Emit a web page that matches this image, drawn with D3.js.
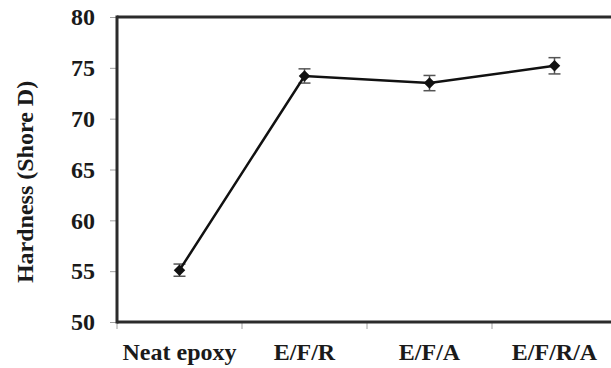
<!DOCTYPE html>
<html>
<head>
<meta charset="utf-8">
<script src="https://cdn.jsdelivr.net/npm/d3@7"></script>
<style>
  html, body { margin: 0; padding: 0; background: #fff; }
  svg { display: block; }
  text { font-family: "Liberation Serif", "Times New Roman", serif; font-weight: bold; fill: #1a1a1a; }
</style>
</head>
<body>
<svg id="chart" width="611" height="368"></svg>
<script>
// Shore D hardness of each formulation, with standard deviation
const categories = ["Neat epoxy", "E/F/R", "E/F/A", "E/F/R/A"];
const hardness = [55.1, 74.2, 73.5, 75.2];
const hardnessErr = [0.6, 0.7, 0.75, 0.8];
const yTicks = [50, 55, 60, 65, 70, 75, 80];
const yTitle = "Hardness (Shore D)";

const svg = d3.select("#chart");
const W = 611, H = 368;
const margin = { left: 117, top: 17, right: -6, bottom: 46 };
const FONT = "Liberation Serif, Times New Roman, serif";
const FS = "24px";

const x = d3.scaleBand()
  .domain(categories)
  .range([margin.left, W - margin.right])
  .paddingInner(0).paddingOuter(0);

const y = d3.scaleLinear()
  .domain([50, 80])
  .range([H - margin.bottom, margin.top]);

// Y axis ticks and labels
const yAxis = d3.axisLeft(y).tickValues(yTicks).tickSize(7).tickPadding(15);
const gy = svg.append("g").attr("transform", `translate(${margin.left},0)`).call(yAxis);
gy.select(".domain").remove();
gy.selectAll(".tick line").attr("stroke", "#a0a0a0").attr("stroke-width", 1);
gy.selectAll(".tick text").style("font-size", FS).attr("fill", "#1a1a1a")
  .attr("font-family", FONT).attr("font-weight", "bold");

// X axis: labels centred in each category band
const xAxis = d3.axisBottom(x).tickSize(0).tickPadding(21);
const gx = svg.append("g").attr("transform", `translate(0,${y(50)})`).call(xAxis);
gx.select(".domain").remove();
gx.selectAll(".tick text").style("font-size", FS).attr("fill", "#1a1a1a")
  .attr("font-family", FONT).attr("font-weight", "bold");

// Category boundary ticks
const bounds = categories.map(c => x(c));
svg.append("g").selectAll("line").data(bounds).join("line")
  .attr("x1", d => d).attr("x2", d => d)
  .attr("y1", y(50)).attr("y2", y(50) + 7)
  .attr("stroke", "#a0a0a0").attr("stroke-width", 1);

// Plot frame (top, left, bottom)
const frame = svg.append("g").attr("stroke", "#2b2b2b").attr("stroke-width", 3).attr("fill", "none");
frame.append("line").attr("x1", margin.left).attr("x2", W + 10).attr("y1", y(80)).attr("y2", y(80));
frame.append("line").attr("x1", margin.left).attr("x2", W + 10).attr("y1", y(50)).attr("y2", y(50));
frame.append("line").attr("x1", margin.left).attr("x2", margin.left).attr("y1", y(80) - 1.5).attr("y2", y(50) + 1.5);

// Y axis title
svg.append("text")
  .attr("transform", `translate(33,182) rotate(-90)`)
  .attr("text-anchor", "middle")
  .style("font-size", FS)
  .text(yTitle);

const cx = c => x(c) + x.bandwidth() / 2;
const pts = categories.map((c, i) => ({ c, v: hardness[i], e: hardnessErr[i] }));

// Error bars
const eb = svg.append("g").attr("stroke", "#555").attr("stroke-width", 1.5);
pts.forEach(p => {
  eb.append("line").attr("x1", cx(p.c)).attr("x2", cx(p.c)).attr("y1", y(p.v - p.e)).attr("y2", y(p.v + p.e));
  [p.v - p.e, p.v + p.e].forEach(v => {
    eb.append("line").attr("x1", cx(p.c) - 6).attr("x2", cx(p.c) + 6).attr("y1", y(v)).attr("y2", y(v));
  });
});

// Connecting line
svg.append("path")
  .datum(pts)
  .attr("fill", "none")
  .attr("stroke", "#111")
  .attr("stroke-width", 2.5)
  .attr("d", d3.line().x(d => cx(d.c)).y(d => y(d.v)));

// Diamond markers
svg.append("g").selectAll("path").data(pts).join("path")
  .attr("transform", d => `translate(${cx(d.c)},${y(d.v)})`)
  .attr("d", d3.symbol().type(d3.symbolDiamond2).size(85))
  .attr("fill", "#111");
</script>
</body>
</html>
